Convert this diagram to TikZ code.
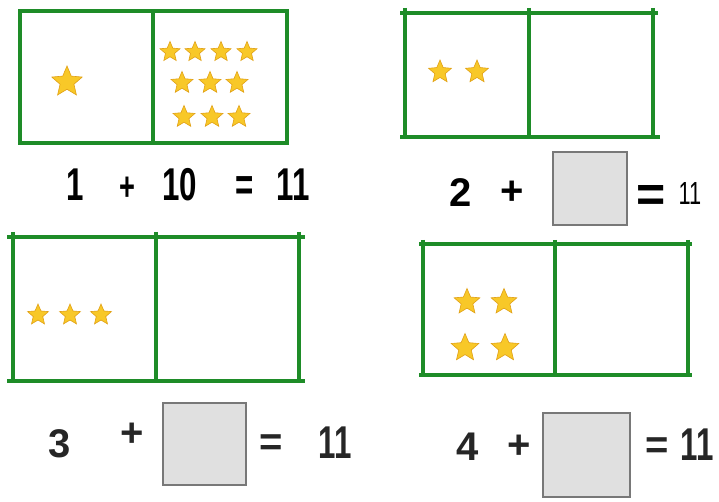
\documentclass[tikz,border=0pt]{standalone}
\usepackage{fontspec}
\setmainfont{Liberation Sans}
\newfontfamily\narrowfont[FakeStretch=0.68]{Liberation Sans}
\usetikzlibrary{shapes.geometric}
\definecolor{frameGreen}{RGB}{30,140,40}
\definecolor{starFill}{RGB}{248,200,40}
\definecolor{starEdge}{RGB}{225,160,20}
\definecolor{boxFill}{RGB}{224,224,224}
\definecolor{boxEdge}{RGB}{120,120,120}
\tikzset{
  frame/.style={draw=frameGreen, line width=3.3pt},
  gstar/.style={star, star points=5, star point ratio=2.2, fill=starFill, draw=starEdge, line width=0.6pt, inner sep=0pt, minimum size=#1},
  gstar/.default=22pt,
  blank/.style={draw=boxEdge, fill=boxFill, line width=1.5pt},
  eqtxt/.style={inner sep=0pt, anchor=base, font=\narrowfont\bfseries\fontsize{46}{50}\selectfont},
  eqtxtb/.style={inner sep=0pt, anchor=base, font=\bfseries\fontsize{40}{44}\selectfont},
}
\begin{document}
\begin{tikzpicture}[x=1pt, y=-1pt]
\useasboundingbox (0,0) rectangle (719,502);
\fill[white] (0,0) rectangle (719,502);

% ---------- Panel 1 ----------
\draw[frame] (20,11) rectangle (287,143);
\draw[frame] (153,11) -- (153,143);
\node[gstar=32pt] (s1a) at (67,82) {};
\foreach \x/\n in {170/a,195/b,221/c,247/d} \node[gstar=21pt] (s1r\n) at (\x,52) {};
\foreach \x/\n in {182/a,210/b,237/c} \node[gstar=23pt] (s1s\n) at (\x,83) {};
\foreach \x/\n in {184/a,212/b,239/c} \node[gstar=23pt] (s1t\n) at (\x,117) {};
\node[eqtxt] (e1a) at (75,201) {1};
\node[eqtxt, font=\narrowfont\bfseries\fontsize{40}{44}\selectfont] (e1b) at (127,201) {+};
\node[eqtxt] (e1c) at (180,201) {10};
\node[eqtxt] (e1d) at (245,201) {=};
\node[eqtxt] (e1e) at (293,201) {11};

% ---------- Panel 2 ----------
\draw[frame] (400,13) -- (658,13);
\draw[frame] (400,137) -- (660,137);
\draw[frame] (405,8) -- (405,139);
\draw[frame] (529,8) -- (529,139);
\draw[frame] (653,8) -- (653,139);
\node[gstar=24pt] (s2a) at (440,72) {};
\node[gstar=24pt] (s2b) at (477,72) {};
\node[eqtxtb] (e2a) at (461,207) {2};
\node[eqtxtb] (e2b) at (512,205) {+};
\node[blank, minimum width=74pt, minimum height=73pt, inner sep=0pt] (b2) at (590,188.5) {};
\node[inner sep=0pt, anchor=base, font=\bfseries\fontsize{50}{54}\selectfont] (e2c) at (651,212) {=};
\node[inner sep=0pt, anchor=base, font=\narrowfont\fontsize{32}{36}\selectfont] (e2d) at (690,205) {11};

% ---------- Panel 3 ----------
\draw[frame] (7,237) -- (305,237);
\draw[frame] (7,381) -- (305,381);
\draw[frame] (13,232) -- (13,383);
\draw[frame] (156,232) -- (156,383);
\draw[frame] (299,232) -- (299,383);
\foreach \x/\n in {38/a,70/b,101/c} \node[gstar=22pt] (s3\n) at (\x,315) {};
\node[eqtxtb, text=black!85] (e3a) at (60,457) {3};
\node[eqtxtb, text=black!85] (e3b) at (132,446) {+};
\node[blank, minimum width=83pt, minimum height=82pt, inner sep=0pt] (b3) at (204.5,444) {};
\node[eqtxtb, text=black!85] (e3c) at (271,455) {=};
\node[eqtxt, text=black!85] (e3d) at (335,458) {11};

% ---------- Panel 4 ----------
\draw[frame] (419,244) -- (692,244);
\draw[frame] (419,375) -- (692,375);
\draw[frame] (423,240) -- (423,377);
\draw[frame] (555,240) -- (555,377);
\draw[frame] (688,240) -- (688,377);
\node[gstar=27pt] (s4a) at (467,302) {};
\node[gstar=27pt] (s4b) at (504,302) {};
\node[gstar=29pt] (s4c) at (465,348) {};
\node[gstar=29pt] (s4d) at (505,348) {};
\node[eqtxtb, text=black!85] (e4a) at (468,460) {4};
\node[eqtxtb, text=black!85] (e4b) at (519,458) {+};
\node[blank, minimum width=87pt, minimum height=84pt, inner sep=0pt] (b4) at (586.5,455) {};
\node[eqtxtb, text=black!85] (e4c) at (657,458) {=};
\node[eqtxt, text=black!85] (e4d) at (697,460) {11};
\end{tikzpicture}
\end{document}
